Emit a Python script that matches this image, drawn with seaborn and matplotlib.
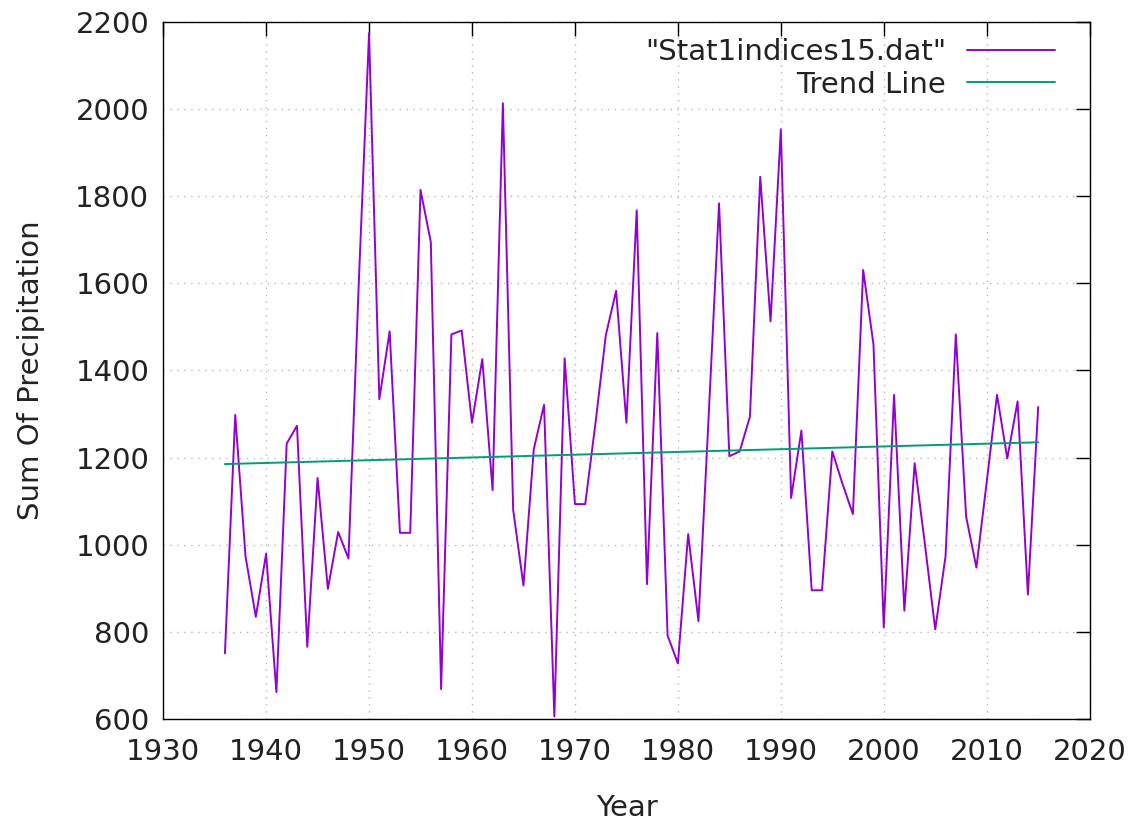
import seaborn as sns
from matplotlib import pyplot as plt
import pandas as pd

sns.set_theme(style='white')
plt.rcParams['font.family'] = ['DejaVu Sans']
plt.rcParams['text.color'] = '#222222'
plt.rcParams['axes.labelcolor'] = '#222222'

years = list(range(1936, 2016))
precip = [750, 1298, 973, 834, 979, 661, 1232, 1273, 765, 1153,
          898, 1029, 968, 1600, 2175, 1334, 1490, 1027, 1027, 1815,
          1695, 668, 1483, 1492, 1280, 1426, 1125, 2014, 1080, 906,
          1219, 1321, 605, 1428, 1093, 1093, 1280, 1481, 1583, 1280,
          1768, 909, 1486, 791, 727, 1024, 824, 1300, 1784, 1203,
          1214, 1294, 1845, 1513, 1954, 1107, 1262, 895, 895, 1214,
          1139, 1070, 1631, 1460, 810, 1344, 848, 1187, 1000, 805,
          973, 1483, 1064, 947, 1144, 1344, 1198, 1329, 885, 1316]

trend_years = [1936, 2015]
trend_values = [1185, 1235]

df = pd.DataFrame({'Year': years, 'precip': precip})
trend = pd.DataFrame({'Year': trend_years, 'trend': trend_values})

fig = plt.figure(figsize=(11.41, 8.27), dpi=100)
ax = fig.add_axes([0.143, 0.131, 0.812, 0.842])

sns.lineplot(x='Year', y='precip', data=df, ax=ax, color='#9400d3',
             linewidth=1.4, label='"Stat1indices15.dat"')
sns.lineplot(x='Year', y='trend', data=trend, ax=ax, color='#009e73',
             linewidth=1.4, label='Trend Line')

ax.set_xlim(1930, 2020)
ax.set_ylim(600, 2200)
ax.set_xticks(range(1930, 2021, 10))
ax.set_yticks(range(600, 2201, 200))

ax.grid(True, linestyle=(0, (1, 4)), color='#b8b8b8', linewidth=1.0)
ax.tick_params(direction='in', length=10, width=1, colors='black',
               labelcolor='#222222', top=True, right=True, labelsize=21)
ax.tick_params(axis='y', pad=10)
ax.tick_params(axis='x', pad=14)
for s in ax.spines.values():
    s.set_color('black')
    s.set_linewidth(1.0)

ax.set_xlabel('Year', fontsize=21, labelpad=20)
ax.set_ylabel('Sum Of Precipitation', fontsize=21, labelpad=22)

ax.legend(loc='upper right', bbox_to_anchor=(0.975, 0.994), borderaxespad=0,
          frameon=False, markerfirst=False, fontsize=21,
          handlelength=3.0, labelspacing=0.15, handletextpad=0.72)

plt.savefig('out.png', dpi=100)
